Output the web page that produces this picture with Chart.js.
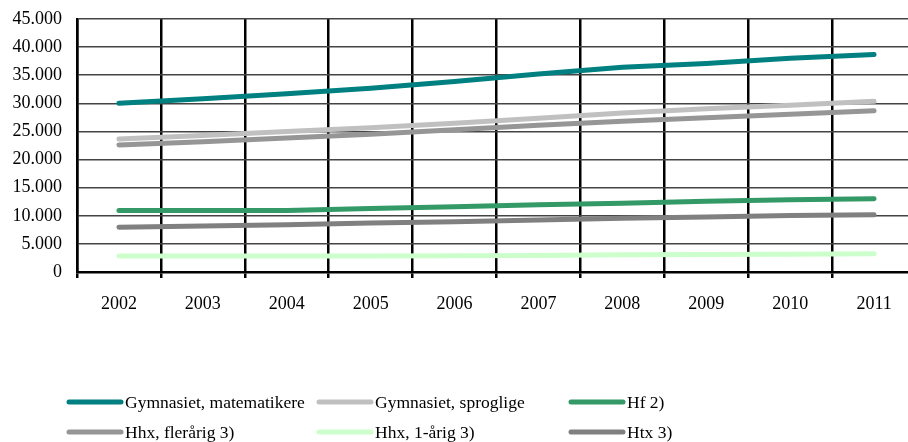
<!DOCTYPE html>
<html>
<head>
<meta charset="utf-8">
<script src="https://cdn.jsdelivr.net/npm/chart.js@4.4.1/dist/chart.umd.min.js"></script>
<style>
  html, body { margin: 0; padding: 0; background: #fff; overflow: hidden; }
  #wrap { width: 922px; height: 442px; }
</style>
</head>
<body>
<div id="wrap"><canvas id="chart" width="922" height="442"></canvas></div>
<script>
// Years on the x axis
const years = ["2002", "2003", "2004", "2005", "2006", "2007", "2008", "2009", "2010", "2011"];

// Series values
const gymMat = [30000, 30800, 31700, 32700, 33900, 35200, 36400, 37100, 38000, 38700];
const gymSprog = [23650, 24300, 25000, 25650, 26450, 27350, 28300, 29050, 29650, 30350];
const hf = [10930, 10930, 10960, 11300, 11600, 11950, 12250, 12600, 12850, 13050];
const hhxFler = [22600, 23150, 23850, 24500, 25300, 26100, 26800, 27450, 28050, 28700];
const hhx1 = [2850, 2850, 2850, 2850, 2900, 2950, 3050, 3100, 3150, 3250];
const htx = [7950, 8200, 8400, 8700, 8950, 9250, 9550, 9800, 10050, 10200];

const labels = ["Gymnasiet, matematikere", "Gymnasiet, sproglige", "Hf 2)",
                "Hhx, flerårig 3)", "Hhx, 1-årig 3)", "Htx 3)"];
const colors = ["#008080", "#C0C0C0", "#339966", "#969696", "#CCFFCC", "#808080"];
const series = [gymMat, gymSprog, hf, hhxFler, hhx1, htx];

const FONT = "'Liberation Serif', 'DejaVu Serif', serif";

// Legend in a fixed three-column grid below the plot
const gridLegend = {
    id: "gridLegend",
    afterDraw(chart) {
        const ctx = chart.ctx;
        const colX = [67, 317, 569];
        const rowY = [402, 432];
        ctx.save();
        ctx.font = "17.5px " + FONT;
        ctx.textBaseline = "middle";
        ctx.fillStyle = "#000";
        chart.data.datasets.forEach((ds, i) => {
            const x = colX[i % 3];
            const y = rowY[Math.floor(i / 3)];
            ctx.strokeStyle = ds.borderColor;
            ctx.lineWidth = 5;
            ctx.lineCap = "round";
            ctx.beginPath();
            ctx.moveTo(x + 2, y);
            ctx.lineTo(x + 54, y);
            ctx.stroke();
            ctx.fillText(ds.label, x + 58, y + 1);
        });
        ctx.restore();
    }
};

const ctx = document.getElementById("chart").getContext("2d");
new Chart(ctx, {
    type: "line",
    data: {
        labels: years,
        datasets: series.map((values, i) => ({
            label: labels[i],
            data: values,
            borderColor: colors[i],
            backgroundColor: colors[i],
            borderWidth: 5,
            borderCapStyle: "round",
            pointRadius: 0,
            tension: 0,
            fill: false
        }))
    },
    options: {
        responsive: false,
        animation: false,
        devicePixelRatio: 1,
        layout: { padding: { left: 0, right: 6, top: 19, bottom: 110 } },
        plugins: {
            legend: { display: false },
            tooltip: { enabled: false }
        },
        scales: {
            x: {
                offset: true,
                grid: {
                    color: "#000",
                    lineWidth: 2.5,
                    offset: true,
                    drawTicks: true,
                    tickLength: 6
                },
                border: { display: true, color: "#000", width: 2.5 },
                ticks: {
                    color: "#000",
                    font: { family: FONT, size: 18 },
                    padding: 15,
                    maxRotation: 0
                },
                afterFit(scale) { scale.height = 60; }
            },
            y: {
                min: 0,
                max: 45000,
                grid: {
                    color: "#444",
                    lineWidth: 1.5,
                    drawTicks: true,
                    tickLength: 15,
                    tickColor: "rgba(0,0,0,0)"
                },
                border: { display: true, color: "#000", width: 2.5 },
                ticks: {
                    stepSize: 5000,
                    color: "#000",
                    font: { family: FONT, size: 18 },
                    padding: 0,
                    callback: (v) => v === 0 ? "0" : v.toLocaleString("de-DE")
                },
                afterFit(scale) { scale.width = 77; }
            }
        }
    },
    plugins: [gridLegend]
});
</script>
</body>
</html>
